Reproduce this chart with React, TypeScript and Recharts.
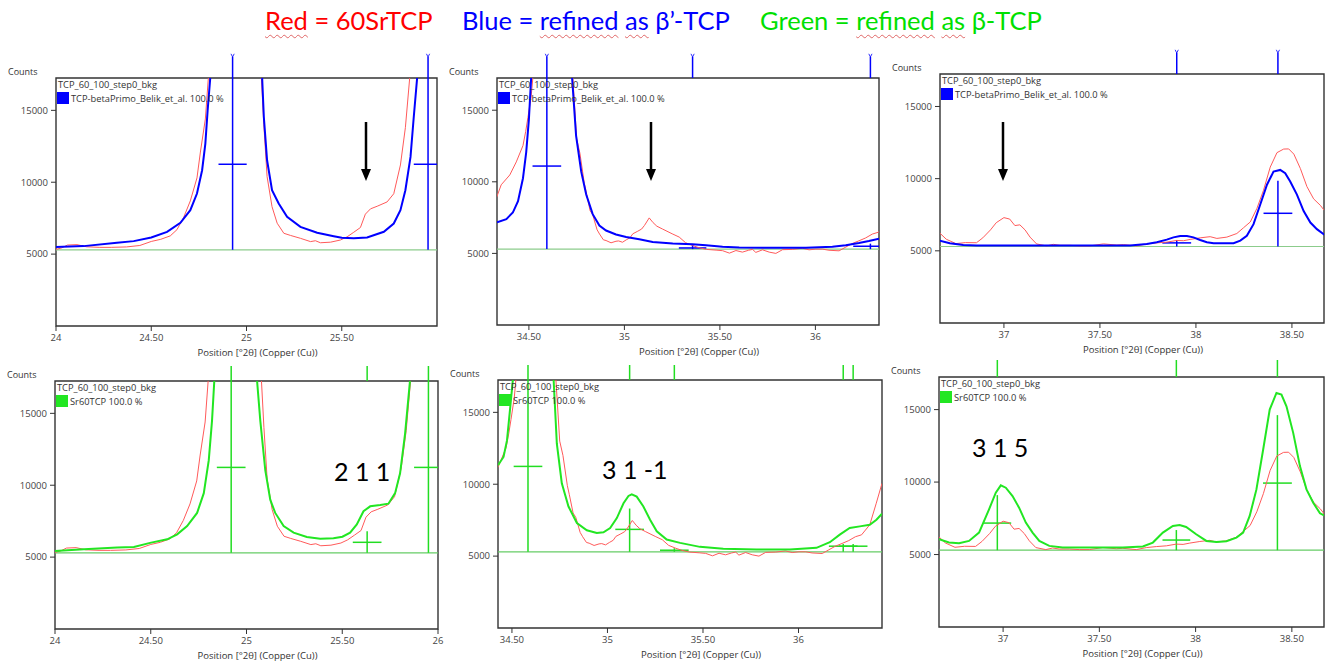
import React from 'react';
import { LineChart, Line, XAxis, YAxis, ReferenceLine, ReferenceArea } from 'recharts';

type Pt = [number, number];
// [peak position, marker top, half-height level, half width]
type Mark = [number, number, number, number];

const Y_MAX = 17250;
const BKG = 5300;
const Y_TICKS = [5000, 10000, 15000];

const X_TICKS_24 = [24, 24.5, 25, 25.5];
const X_TICKS_24_FULL = [24, 24.5, 25, 25.5, 26];
const X_TICKS_34 = [34.5, 35, 35.5, 36];
const X_TICKS_37 = [37, 37.5, 38, 38.5];

const DOMAIN_24: [number, number] = [24, 26];
const DOMAIN_34_TOP: [number, number] = [34.333, 36.333];
const DOMAIN_34_BOTTOM: [number, number] = [34.427, 36.437];
const DOMAIN_37: [number, number] = [36.667, 38.667];

const SAMPLE_LABEL = 'TCP_60_100_step0_bkg';
const BETA_PRIME_LABEL = 'TCP-betaPrimo_Belik_et_al. 100.0 %';
const BETA_LABEL = 'Sr60TCP 100.0 %';
const X_TITLE = 'Position [°2θ] (Copper (Cu))';
const Y_TITLE = 'Counts';

// observed 60SrTCP pattern (red)
const obs24: Pt[] = [
  [24.0, 5330], [24.03, 5430], [24.06, 5630], [24.11, 5660], [24.16, 5510], [24.23, 5470], [24.29, 5470],
  [24.37, 5500], [24.44, 5600], [24.5, 5880], [24.55, 6030], [24.6, 6270], [24.635, 6700], [24.67, 7550],
  [24.705, 8700], [24.74, 10300], [24.758, 12100], [24.784, 14400], [24.8, 17300], [24.93, 60000],
  [25.078, 17300], [25.091, 14000], [25.108, 10400], [25.134, 8300], [25.161, 7150], [25.196, 6450],
  [25.231, 6300], [25.283, 6100], [25.336, 5870], [25.362, 5930], [25.388, 5790], [25.441, 5830],
  [25.493, 5980], [25.528, 6200], [25.563, 6520], [25.598, 6850], [25.624, 7780], [25.651, 8150],
  [25.686, 8330], [25.738, 8630], [25.773, 9200], [25.808, 11200], [25.834, 13800], [25.857, 17300],
  [25.95, 60000], [26.0, 60000],
];

const obs34: Pt[] = [
  [34.33, 8880], [34.355, 9790], [34.4, 10480], [34.434, 11390], [34.469, 12530], [34.483, 13500],
  [34.495, 14500], [34.512, 16000], [34.521, 17300], [34.59, 60000], [34.73, 17300], [34.75, 13000],
  [34.767, 12000], [34.79, 9900], [34.8, 9300], [34.82, 8000], [34.834, 7700], [34.857, 6650],
  [34.87, 6350], [34.89, 5950], [34.904, 5900], [34.93, 5740], [34.956, 5850], [34.97, 5870],
  [34.99, 5780], [35.01, 5950], [35.03, 6100], [35.044, 6370], [35.07, 6550], [35.09, 6700],
  [35.105, 6950], [35.13, 7480], [35.15, 7150], [35.17, 6900], [35.2, 6700], [35.25, 6370],
  [35.287, 6140], [35.32, 5750], [35.357, 5550], [35.39, 5400], [35.43, 5280], [35.48, 5230],
  [35.514, 5190], [35.55, 5020], [35.584, 5200], [35.618, 5090], [35.65, 5220], [35.671, 5280],
  [35.688, 5070], [35.723, 5250], [35.758, 5090], [35.793, 5000], [35.828, 5260], [35.88, 5280],
  [35.932, 5360], [35.967, 5250], [36.002, 5300], [36.037, 5300], [36.071, 5220], [36.124, 5180],
  [36.159, 5440], [36.193, 5690], [36.228, 5880], [36.263, 6080], [36.298, 6350], [36.33, 6480],
  [36.373, 7180], [36.407, 8680], [36.437, 10060],
];

const obs37: Pt[] = [
  [36.666, 6230], [36.7, 5800], [36.75, 5500], [36.8, 5570], [36.857, 5560], [36.89, 5900],
  [36.93, 6450], [36.96, 6950], [37.0, 7300], [37.03, 7200], [37.057, 6750], [37.083, 6800],
  [37.11, 6450], [37.136, 5950], [37.17, 5480], [37.222, 5340], [37.257, 5450], [37.292, 5380],
  [37.344, 5380], [37.396, 5340], [37.448, 5340], [37.518, 5480], [37.588, 5400], [37.622, 5430],
  [37.692, 5340], [37.744, 5480], [37.796, 5550], [37.848, 5600], [37.9, 5720], [37.935, 5700],
  [37.97, 5790], [38.022, 5900], [38.074, 5980], [38.109, 5860], [38.161, 5950], [38.213, 6200],
  [38.248, 6600], [38.283, 7000], [38.318, 7950], [38.352, 9200], [38.387, 10800], [38.422, 11800],
  [38.457, 12050], [38.483, 12060], [38.51, 11700], [38.544, 10700], [38.578, 9450], [38.613, 8600],
  [38.648, 8150], [38.669, 7790],
];

// calculated pattern refined as beta'-TCP (blue)
const betaPrime24: Pt[] = [
  [24.0, 5500], [24.145, 5556], [24.32, 5787], [24.408, 5903], [24.5, 6158], [24.583, 6551],
  [24.653, 7176], [24.705, 8056], [24.74, 9213], [24.767, 10834], [24.784, 12686], [24.796, 15001],
  [24.81, 17300], [24.93, 60000], [25.082, 17300], [25.091, 14538], [25.108, 11528], [25.134, 9445],
  [25.169, 8519], [25.213, 7593], [25.283, 6898], [25.371, 6482], [25.458, 6250], [25.5, 6134],
  [25.563, 6111], [25.633, 6158], [25.721, 6551], [25.773, 7130], [25.808, 8056], [25.834, 9445],
  [25.861, 11760], [25.878, 14538], [25.896, 17300], [25.95, 60000], [26.0, 60000],
];

const betaPrime34: Pt[] = [
  [34.333, 7169], [34.382, 7397], [34.416, 7854], [34.443, 8653], [34.469, 10251], [34.486, 12077],
  [34.5, 14360], [34.512, 17300], [34.59, 60000], [34.726, 17300], [34.747, 13219], [34.774, 10708],
  [34.8, 9109], [34.834, 7740], [34.869, 6941], [34.904, 6598], [34.956, 6324], [35.009, 6142],
  [35.078, 5982], [35.148, 5799], [35.253, 5685], [35.357, 5639], [35.427, 5571], [35.514, 5457],
  [35.601, 5411], [35.775, 5388], [35.95, 5388], [36.089, 5457], [36.159, 5571], [36.228, 5731],
  [36.28, 5868], [36.333, 6027],
];

const betaPrime37: Pt[] = [
  [36.666, 5706], [36.718, 5524], [36.788, 5410], [36.857, 5364], [37.101, 5364], [37.448, 5364],
  [37.657, 5364], [37.744, 5478], [37.796, 5592], [37.848, 5774], [37.883, 5934], [37.918, 6025],
  [37.953, 6025], [37.987, 5934], [38.022, 5752], [38.057, 5592], [38.092, 5524], [38.196, 5524],
  [38.231, 5706], [38.265, 6048], [38.3, 6845], [38.335, 8212], [38.37, 9579], [38.404, 10490],
  [38.439, 10604], [38.465, 10376], [38.491, 9807], [38.526, 8895], [38.561, 7756], [38.596, 6959],
  [38.63, 6503], [38.669, 6116],
];

// calculated pattern refined as beta-TCP (green)
const beta24: Pt[] = [
  [24.0, 5420], [24.151, 5550], [24.325, 5665], [24.412, 5710], [24.502, 6009], [24.586, 6239],
  [24.638, 6583], [24.69, 7156], [24.742, 8074], [24.777, 9450], [24.803, 11744], [24.82, 14497],
  [24.832, 17300], [24.92, 60000], [25.055, 17300], [25.072, 14497], [25.098, 11056], [25.124, 8992],
  [25.15, 8074], [25.194, 7156], [25.246, 6698], [25.315, 6399], [25.385, 6285], [25.454, 6308],
  [25.501, 6422], [25.541, 6698], [25.576, 7271], [25.611, 8189], [25.646, 8533], [25.698, 8624],
  [25.741, 8716], [25.776, 9450], [25.802, 10827], [25.828, 13580], [25.854, 17300], [25.95, 60000],
  [26.0, 60000],
];

const beta34: Pt[] = [
  [34.427, 11322], [34.456, 11897], [34.474, 13047], [34.491, 15345], [34.505, 17300], [34.584, 60000],
  [34.718, 17300], [34.735, 12817], [34.761, 10058], [34.796, 8449], [34.84, 7299], [34.892, 6793],
  [34.944, 6609], [34.979, 6655], [35.014, 6954], [35.049, 7644], [35.084, 8678], [35.11, 9184],
  [35.127, 9299], [35.153, 9138], [35.188, 8449], [35.223, 7529], [35.258, 6724], [35.31, 6150],
  [35.38, 5920], [35.484, 5644], [35.606, 5506], [35.78, 5460], [35.955, 5460], [36.094, 5575],
  [36.164, 5966], [36.216, 6494], [36.268, 6954], [36.321, 7069], [36.373, 7184], [36.408, 7529],
  [36.437, 7943],
];

const beta37: Pt[] = [
  [36.667, 6055], [36.719, 5826], [36.771, 5780], [36.823, 5940], [36.875, 6514], [36.927, 8120],
  [36.962, 9267], [36.988, 9772], [37.014, 9611], [37.049, 9037], [37.083, 8235], [37.118, 7202],
  [37.153, 6514], [37.188, 5940], [37.24, 5596], [37.309, 5482], [37.622, 5482], [37.726, 5551],
  [37.778, 5826], [37.83, 6514], [37.882, 6973], [37.917, 7042], [37.951, 6904], [38.003, 6399],
  [38.056, 5940], [38.108, 5872], [38.16, 5918], [38.212, 6170], [38.247, 6514], [38.281, 7661],
  [38.316, 9496], [38.351, 12249], [38.385, 15002], [38.42, 16148], [38.446, 16034], [38.472, 15231],
  [38.507, 13396], [38.542, 11102], [38.576, 9496], [38.611, 8579], [38.646, 7845], [38.667, 7700],
];

// reflection markers
const marksBetaPrime24: Mark[] = [[24.927, Y_MAX, 11250, 0.074], [25.953, Y_MAX, 11250, 0.075]];
const marksBetaPrime34: Mark[] = [[34.594, Y_MAX, 11100, 0.075], [35.357, 5600, 5380, 0.072], [36.288, 5680, 5500, 0.09]];
const marksBetaPrime37: Mark[] = [[37.9, 5750, 5550, 0.075], [38.427, 9860, 7600, 0.075]];
const marksBeta24: Mark[] = [[24.92, Y_MAX, 11240, 0.075], [25.63, 6800, 6030, 0.075], [25.95, Y_MAX, 11240, 0.075]];
const marksBeta34: Mark[] = [[34.584, Y_MAX, 11240, 0.075], [35.116, 8310, 6860, 0.075], [35.35, 5550, 5410, 0.075], [36.234, 5850, 5690, 0.075], [36.286, 5850, 5690, 0.075]];
const marksBeta37: Mark[] = [[36.97, 9100, 7170, 0.072], [37.9, 6690, 6000, 0.072], [38.425, 14620, 9930, 0.075]];

const FONT = '"Segoe UI", "Open Sans", "Noto Sans", sans-serif';
const RED = '#ff5a5a';
const BLUE = '#0000ff';
const GREEN = '#22e622';

const fmt = (v: number) => (Number.isInteger(v) ? String(v) : v.toFixed(2));
const toXY = (a: Pt[]) => a.map(([x, y]) => ({ x, y }));

type PanelProps = {
  box: [number, number, number, number];
  domain: [number, number];
  ticks: number[];
  obs: Pt[];
  fit: Pt[];
  color: string;
  markColor: string;
  bkgColor: string;
  marks: Mark[];
  legend: string;
  tickLen: number;
  glyph: boolean;
};

function Panel(p: PanelProps) {
  const ML = 56, MT = 30, MB = 45, MR = 6;
  const [L, T, W, H] = p.box;
  const topTicks = p.marks.map((m) => m[0]);
  const renderGlyph = (props: any) => (
    <path
      d={`M${props.x - 1.6},${props.y - 3.2} L${props.x},${props.y} L${props.x + 1.6},${props.y - 3.2}`}
      stroke={p.markColor}
      strokeWidth={0.8}
      fill="none"
    />
  );
  const renderNone = () => <g />;
  const txt: React.CSSProperties = { position: 'absolute', fontFamily: FONT, color: '#333', whiteSpace: 'nowrap', lineHeight: '12px' };
  return (
    <>
      <div style={{ position: 'absolute', left: L - ML, top: T - MT }}>
        <LineChart width={W + ML + MR} height={H + MT + MB} margin={{ top: MT - p.tickLen, right: MR, bottom: 0, left: 0 }}>
          <XAxis
            type="number"
            dataKey="x"
            domain={p.domain}
            allowDataOverflow
            ticks={p.ticks}
            interval={0}
            tickFormatter={fmt}
            height={MB}
            axisLine={false}
            tickSize={5}
            tickMargin={3}
            tickLine={{ stroke: '#333' }}
            tick={{ fontSize: 9.5, fill: '#444', fontFamily: FONT }}
          />
          <XAxis
            xAxisId="top"
            orientation="top"
            type="number"
            dataKey="x"
            domain={p.domain}
            allowDataOverflow
            ticks={topTicks}
            interval={0}
            height={p.tickLen}
            axisLine={false}
            tickSize={p.tickLen}
            tickMargin={0}
            tickLine={{ stroke: p.markColor, strokeWidth: 1.5 }}
            tick={p.glyph ? renderGlyph : renderNone}
          />
          <YAxis
            type="number"
            domain={[0, Y_MAX]}
            allowDataOverflow
            ticks={Y_TICKS}
            interval={0}
            width={ML}
            axisLine={false}
            tickSize={5}
            tickMargin={3}
            tickLine={{ stroke: '#333' }}
            tick={{ fontSize: 9.5, fill: '#444', fontFamily: FONT }}
          />
          <ReferenceLine y={BKG} stroke={p.bkgColor} strokeWidth={1.2} ifOverflow="hidden" />
          {p.marks.map((m, i) => (
            <React.Fragment key={i}>
              <ReferenceLine
                segment={[{ x: m[0], y: BKG }, { x: m[0], y: m[1] }]}
                stroke={p.markColor}
                strokeWidth={1.5}
                ifOverflow="hidden"
              />
              <ReferenceLine
                segment={[{ x: m[0] - m[3], y: m[2] }, { x: m[0] + m[3], y: m[2] }]}
                stroke={p.markColor}
                strokeWidth={1.5}
                ifOverflow="hidden"
              />
            </React.Fragment>
          ))}
          <Line data={toXY(p.obs)} dataKey="y" type="linear" stroke={RED} strokeWidth={1} dot={false} isAnimationActive={false} />
          <Line data={toXY(p.fit)} dataKey="y" type="linear" stroke={p.color} strokeWidth={2} dot={false} isAnimationActive={false} />
          <ReferenceArea
            x1={p.domain[0]}
            x2={p.domain[1]}
            y1={0}
            y2={Y_MAX}
            fill="none"
            fillOpacity={0}
            stroke="#333"
            strokeWidth={1.4}
            ifOverflow="visible"
          />
        </LineChart>
      </div>
      <div style={{ ...txt, left: L - 48, top: T - 12, fontSize: 9 }}>{Y_TITLE}</div>
      <div style={{ ...txt, left: L + 2, top: T + 1, fontSize: 9.3 }}>{SAMPLE_LABEL}</div>
      <div style={{ position: 'absolute', left: L + 1, top: T + 14, width: 12, height: 12, background: p.color }} />
      <div style={{ ...txt, left: L + 15, top: T + 15, fontSize: 9.3 }}>{p.legend}</div>
      <div style={{ ...txt, left: L, width: W, top: T + H + 21, fontSize: 9.5, textAlign: 'center', transform: 'translateX(11px)' }}>
        {X_TITLE}
      </div>
    </>
  );
}

function Arrow({ x }: { x: number }) {
  return (
    <g>
      <line x1={x} y1={122} x2={x} y2={172} stroke="#000" strokeWidth={2.5} />
      <polygon points={`${x - 5},${169} ${x + 5},${169} ${x},${181}`} fill="#000" />
    </g>
  );
}

export default function App() {
  const squiggle: React.CSSProperties = {
    textDecorationLine: 'underline',
    textDecorationStyle: 'wavy',
    textDecorationColor: '#e06666',
    textDecorationThickness: '1px',
    textUnderlineOffset: '4px',
  };
  const title: React.CSSProperties = {
    position: 'absolute',
    top: 7,
    fontFamily: 'Lato, "Open Sans", sans-serif',
    fontSize: 25.5,
    lineHeight: '26px',
    whiteSpace: 'pre',
  };
  const hkl: React.CSSProperties = {
    position: 'absolute',
    fontFamily: 'Lato, "Open Sans", sans-serif',
    fontSize: 25,
    lineHeight: '25px',
    color: '#000',
    whiteSpace: 'pre',
  };
  return (
    <div style={{ position: 'absolute', left: 0, top: 0, width: 1333, height: 668, background: '#fff', overflow: 'hidden' }}>
      <div style={{ ...title, left: 265, color: '#ff0000' }}>
        <span style={squiggle}>Red</span> = 60SrTCP
      </div>
      <div style={{ ...title, left: 462, color: '#0000ff' }}>
        Blue = <span style={squiggle}>refined</span> <span style={squiggle}>as</span> β’-TCP
      </div>
      <div style={{ ...title, left: 760, color: '#00e000' }}>
        Green = <span style={squiggle}>refined</span> <span style={squiggle}>as</span> β-TCP
      </div>

      <Panel box={[56, 78, 381, 248]} domain={DOMAIN_24} ticks={X_TICKS_24} obs={obs24} fit={betaPrime24}
        color={BLUE} markColor={BLUE} bkgColor="#8ccc8c" marks={marksBetaPrime24} legend={BETA_PRIME_LABEL} tickLen={21} glyph />
      <Panel box={[497, 78, 382, 247]} domain={DOMAIN_34_TOP} ticks={X_TICKS_34} obs={obs34} fit={betaPrime34}
        color={BLUE} markColor={BLUE} bkgColor="#8ccc8c" marks={marksBetaPrime34} legend={BETA_PRIME_LABEL} tickLen={21} glyph />
      <Panel box={[940, 74, 384, 249]} domain={DOMAIN_37} ticks={X_TICKS_37} obs={obs37} fit={betaPrime37}
        color={BLUE} markColor={BLUE} bkgColor="#8ccc8c" marks={marksBetaPrime37} legend={BETA_PRIME_LABEL} tickLen={21} glyph />
      <Panel box={[55, 381, 383, 248]} domain={DOMAIN_24} ticks={X_TICKS_24_FULL} obs={obs24} fit={beta24}
        color={GREEN} markColor="#22dd22" bkgColor="#66cc66" marks={marksBeta24} legend={BETA_LABEL} tickLen={15} glyph={false} />
      <Panel box={[498, 380, 384, 248]} domain={DOMAIN_34_BOTTOM} ticks={X_TICKS_34} obs={obs34} fit={beta34}
        color={GREEN} markColor="#22dd22" bkgColor="#66cc66" marks={marksBeta34} legend={BETA_LABEL} tickLen={15} glyph={false} />
      <Panel box={[939, 377, 385, 250]} domain={DOMAIN_37} ticks={X_TICKS_37} obs={obs37} fit={beta37}
        color={GREEN} markColor="#22dd22" bkgColor="#66cc66" marks={marksBeta37} legend={BETA_LABEL} tickLen={17} glyph={false} />

      <svg width={1333} height={668} style={{ position: 'absolute', left: 0, top: 0, pointerEvents: 'none' }}>
        <Arrow x={366} />
        <Arrow x={651} />
        <Arrow x={1003} />
      </svg>

      <div style={{ ...hkl, left: 334, top: 459 }}>2 1 1</div>
      <div style={{ ...hkl, left: 602, top: 457 }}>3 1 -1</div>
      <div style={{ ...hkl, left: 972, top: 435 }}>3 1 5</div>
    </div>
  );
}
